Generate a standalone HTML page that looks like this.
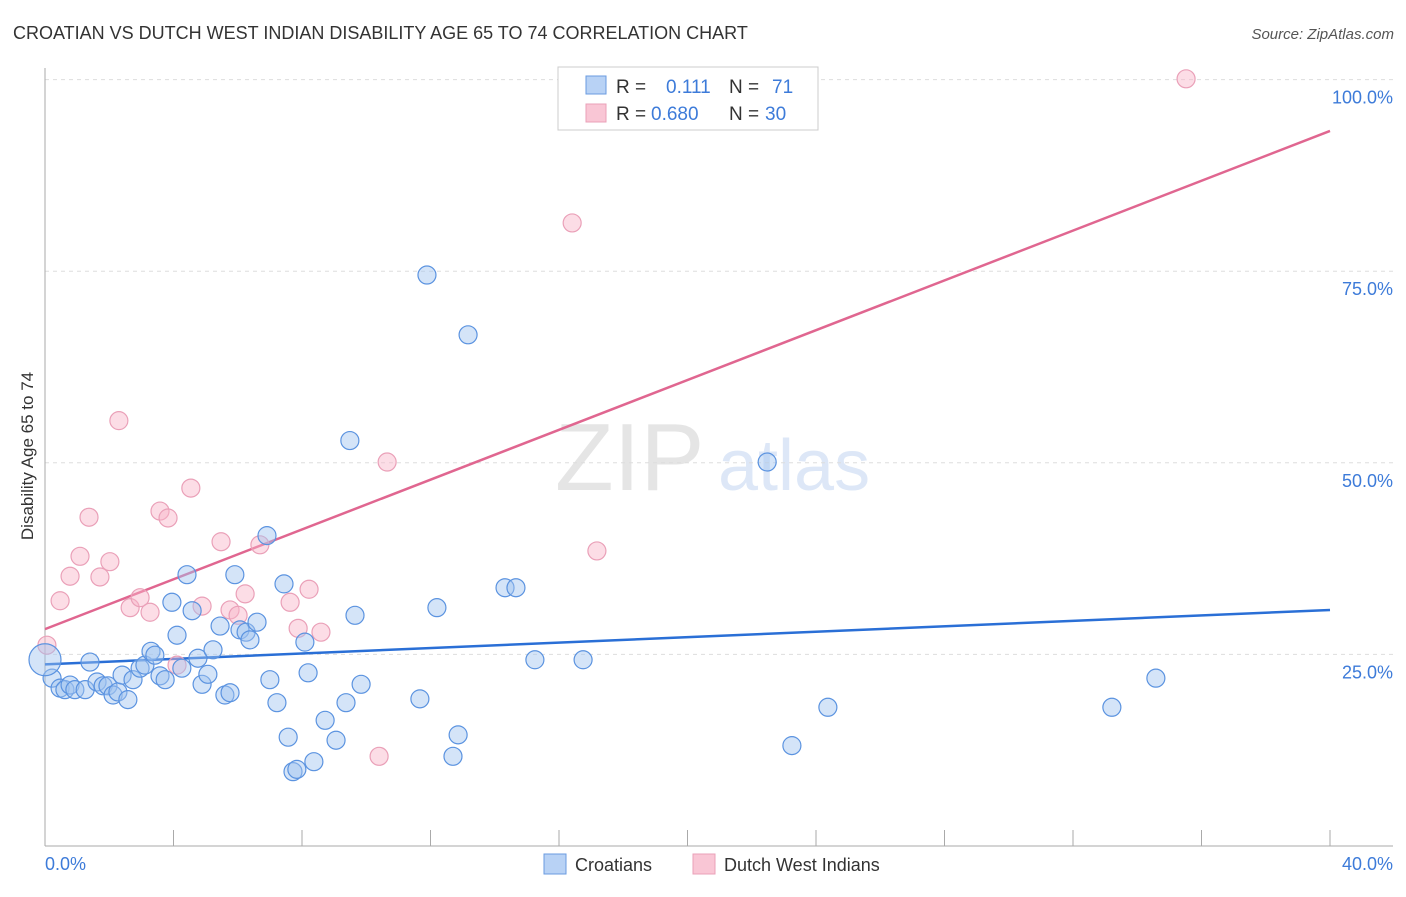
<!DOCTYPE html>
<html><head><meta charset="utf-8"><style>
body{margin:0;background:#fff;font-family:"Liberation Sans",sans-serif;}
svg text{font-family:"Liberation Sans",sans-serif;}
</style></head><body>
<svg width="1406" height="892" viewBox="0 0 1406 892">
<text x="13" y="39" font-size="18" fill="#333">CROATIAN VS DUTCH WEST INDIAN DISABILITY AGE 65 TO 74 CORRELATION CHART</text>
<text x="1394" y="39" font-size="15" fill="#555" font-style="italic" text-anchor="end">Source: ZipAtlas.com</text>
<g opacity="0.25">
<text x="555" y="490" font-size="96" font-family="Liberation Serif" fill="#999">ZIP</text>
<text x="718" y="490" font-size="72" fill="#7aa4e0">atlas</text>
</g>
<g id="grid"></g>
<g id="axes"></g>
<g id="lines"></g>
<g id="points"></g>
<text transform="translate(33,456) rotate(-90)" font-size="17" fill="#333" text-anchor="middle">Disability Age 65 to 74</text>
<text x="45" y="870" font-size="18" fill="#3d7bd9">0.0%</text>
<text x="1393" y="870" font-size="18" fill="#3d7bd9" text-anchor="end">40.0%</text>
<g>
<rect x="558" y="67" width="260" height="63" fill="#fff" stroke="#ccc"/>
<rect x="586" y="76" width="20" height="18" fill="#b8d2f5" stroke="#6a9be0"/>
<rect x="586" y="104" width="20" height="18" fill="#f9c6d5" stroke="#eaa0b8"/>
<text x="616" y="93" font-size="19" fill="#333">R = </text>
<text x="666" y="93" font-size="19" fill="#3d7bd9">0.111</text>
<text x="729" y="93" font-size="19" fill="#333">N = </text>
<text x="772" y="93" font-size="19" fill="#3d7bd9">71</text>
<text x="616" y="120" font-size="19" fill="#333">R = </text>
<text x="651" y="120" font-size="19" fill="#3d7bd9">0.680</text>
<text x="729" y="120" font-size="19" fill="#333">N = </text>
<text x="765" y="120" font-size="19" fill="#3d7bd9">30</text>
</g>
<g>
<rect x="544" y="854" width="22" height="20" fill="#b8d2f5" stroke="#6a9be0"/>
<text x="575" y="871" font-size="18" fill="#333">Croatians</text>
<rect x="693" y="854" width="22" height="20" fill="#f9c6d5" stroke="#eaa0b8"/>
<text x="724" y="871" font-size="18" fill="#333">Dutch West Indians</text>
</g>
</svg>
<script>
const yTicks=[25,50,75,100];
const yTickLabels=["25.0%","50.0%","75.0%","100.0%"];
const xTicks=[0,4,8,12,16,20,24,28,32,36,40];
const blueX=[0.22,0.47,0.62,0.78,0.93,1.25,1.40,1.62,1.81,1.96,2.12,2.27,2.40,2.58,2.74,2.96,3.11,3.30,3.42,3.58,3.74,3.95,4.11,4.26,4.42,4.58,4.76,4.89,5.07,5.23,5.45,5.60,5.76,5.91,6.07,6.26,6.38,6.60,6.91,7.00,7.22,7.44,7.57,7.72,7.84,8.09,8.19,8.37,8.72,9.06,9.37,9.49,9.65,9.84,11.67,11.89,12.20,12.70,12.86,13.17,14.32,14.66,15.25,16.75,22.48,23.25,24.37,33.21,34.58,0.0];
const blueY=[21.9,20.6,20.4,21.0,20.4,20.4,24.0,21.4,20.9,20.9,19.7,20.1,22.3,19.1,21.7,23.2,23.6,25.4,24.9,22.2,21.7,31.8,27.5,23.2,35.4,30.7,24.5,21.1,22.4,25.6,28.7,19.7,20.0,35.4,28.2,27.9,26.9,29.2,40.5,21.7,18.7,34.2,14.2,9.7,10.0,26.6,22.6,11.0,16.4,13.8,18.7,52.9,30.1,21.1,19.2,74.5,31.1,11.7,14.5,66.7,33.7,33.7,24.3,24.3,50.1,13.1,18.1,18.1,21.9,24.3];
const pinkX=[0.06,0.47,0.78,1.09,1.37,1.71,2.02,2.30,2.65,2.96,3.27,3.58,3.83,4.11,4.54,4.89,5.48,5.76,6.01,6.23,6.69,7.63,7.88,8.22,8.59,10.40,10.65,16.41,17.18,35.52];
const pinkY=[26.2,32.0,35.2,37.8,42.9,35.1,37.1,55.5,31.1,32.4,30.5,43.7,42.8,23.6,46.7,31.3,39.7,30.8,30.1,32.9,39.3,31.8,28.4,33.5,27.9,11.7,50.1,81.3,38.5,100.1];
const blueTrend=[23.7,30.8];
const pinkTrend=[28.3,93.3];
const trendX=[0,40];
const NS="http://www.w3.org/2000/svg";
const sx=v=>45+v/40*1285;
const sy=v=>846-v*7.664;
function mk(tag,attrs,parent){const e=document.createElementNS(NS,tag);for(const k in attrs)e.setAttribute(k,attrs[k]);parent.appendChild(e);return e;}
const grid=document.getElementById('grid'),axes=document.getElementById('axes');
yTicks.forEach((t,i)=>{
 const l=mk('line',{x1:45,x2:1393,y1:sy(t),y2:sy(t),stroke:'#ddd','stroke-dasharray':'4,4'},grid);
 
 
 const tx=mk('text',{x:1393,y:sy(t)+24,'font-size':18,fill:'#3d7bd9','text-anchor':'end'},grid);
 tx.textContent=yTickLabels[i];
 
 
});
const ax=mk('line',{x1:45,x2:45,y1:68,y2:846,stroke:'#aaa'},axes);


const bx=mk('line',{x1:45,x2:1393,y1:846,y2:846,stroke:'#aaa'},axes);


xTicks.forEach(t=>{
 const l=mk('line',{x1:sx(t),x2:sx(t),y1:830,y2:846,stroke:'#aaa'},axes);
 
 
});
const pts=document.getElementById('points');
pinkX.forEach((x,i)=>{
 const c=mk('circle',{cx:sx(x),cy:sy(pinkY[i]),r:9,fill:'rgba(248,180,200,0.45)',stroke:'#eaa0b8','stroke-width':1.2},pts);
 
 
});
blueX.forEach((x,i)=>{
 const c=mk('circle',{cx:sx(x),cy:sy(blueY[i]),r:i===blueX.length-1?16:9,fill:'rgba(160,196,240,0.45)',stroke:'#5b93e0','stroke-width':1.2},pts);
 
 
});
const lines=document.getElementById('lines');
const bl=mk('line',{x1:sx(trendX[0]),y1:sy(blueTrend[0]),x2:sx(trendX[1]),y2:sy(blueTrend[1]),stroke:'#2a6fd6','stroke-width':2.5},lines);


const pl=mk('line',{x1:sx(trendX[0]),y1:sy(pinkTrend[0]),x2:sx(trendX[1]),y2:sy(pinkTrend[1]),stroke:'#e06690','stroke-width':2.5},lines);


</script>
</body></html>
